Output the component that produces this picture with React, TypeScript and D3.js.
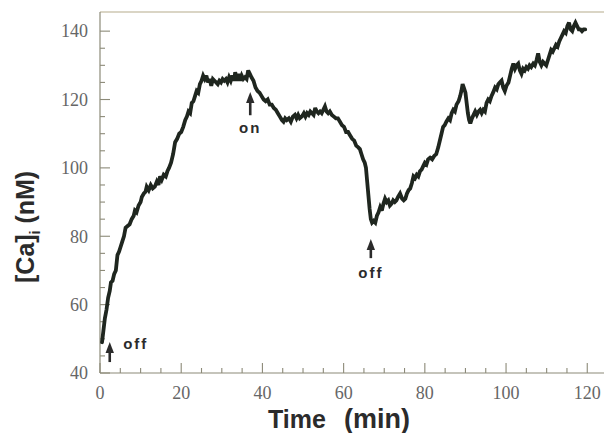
import React from "react";
import * as d3 from "d3";

const timeMin = [
  0.5, 0.8, 1.2, 1.6, 2.0, 2.4, 2.7, 3.1, 3.5, 3.9, 4.3, 4.7, 5.1, 5.5, 5.9, 6.3, 6.8, 7.3, 7.8, 8.3,
  8.6, 9.0, 9.5, 10.0, 10.3, 10.8, 11.2, 11.5, 12.0, 12.5, 13.0, 13.5, 14.0, 14.4, 14.8, 15.2, 15.7, 16.2, 16.6, 17.0,
  17.5, 18.0, 18.5, 19.0, 19.5, 20.0, 20.5, 21.0, 21.4, 21.8, 22.2, 22.6, 23.0, 23.4, 23.8, 24.2, 24.6, 25.0, 25.4, 25.8,
  26.2, 26.6, 27.0, 27.4, 27.8, 28.2, 28.6, 29.0, 29.4, 29.8, 30.2, 30.6, 31.0, 31.4, 31.8, 32.2, 32.6, 33.0, 33.3, 33.7,
  34.1, 34.5, 34.9, 35.3, 35.7, 36.1, 36.5, 36.9, 37.3, 37.8, 38.3, 38.8, 39.3, 39.8, 40.3, 40.8, 41.3, 41.8, 42.3, 42.8,
  43.3, 43.8, 44.3, 44.8, 45.2, 45.6, 46.0, 46.5, 47.0, 47.5, 48.0, 48.4, 48.8, 49.2, 49.7, 50.2, 50.6, 51.0, 51.4, 51.8,
  52.2, 52.6, 53.0, 53.4, 53.8, 54.2, 54.6, 55.0, 55.4, 55.8, 56.2, 56.6, 57.1, 57.6, 58.1, 58.6, 59.1, 59.6, 60.1, 60.6,
  61.1, 61.6, 62.1, 62.6, 63.1, 63.6, 64.0, 64.4, 64.8, 65.2, 65.5, 65.8, 66.1, 66.4, 66.7, 67.0, 67.4, 67.8, 68.2, 68.6,
  69.0, 69.4, 69.8, 70.2, 70.6, 71.0, 71.4, 71.8, 72.2, 72.6, 73.0, 73.4, 73.9, 74.4, 74.8, 75.2, 75.6, 76.0, 76.4, 76.8,
  77.2, 77.6, 78.0, 78.4, 78.8, 79.2, 79.6, 80.0, 80.4, 80.8, 81.3, 81.8, 82.3, 82.8, 83.3, 83.7, 84.1, 84.5, 84.9, 85.3,
  85.8, 86.2, 86.6, 87.0, 87.4, 87.8, 88.3, 88.7, 89.0, 89.3, 89.6, 90.0, 90.3, 90.6, 90.9, 91.2, 91.6, 92.0, 92.4, 92.8,
  93.2, 93.6, 94.0, 94.4, 94.8, 95.2, 95.6, 96.0, 96.4, 96.8, 97.3, 97.7, 98.1, 98.5, 98.9, 99.3, 99.7, 100.1, 100.6, 101.0,
  101.4, 101.8, 102.2, 102.6, 103.0, 103.4, 103.8, 104.2, 104.6, 105.0, 105.4, 105.8, 106.2, 106.7, 107.1, 107.5, 107.9, 108.3, 108.7, 109.1,
  109.5, 109.9, 110.3, 110.7, 111.1, 111.5, 111.9, 112.3, 112.7, 113.1, 113.5, 113.9, 114.3, 114.7, 115.1, 115.5, 115.9, 116.3, 116.7, 117.1,
  117.5, 117.9, 118.3, 118.7, 119.1, 119.5,
];

const caNM = [
  49, 52, 56, 58.5, 62, 64, 66.5, 67, 69, 70, 74.5, 75.5, 77, 78.5, 80, 82.5, 83, 83.5, 85, 86,
  87.5, 87, 89, 90, 91.5, 92.5, 93, 94.5, 93.5, 95, 94, 94.5, 96, 95, 97.5, 96.5, 98, 97.5, 99, 100,
  101.5, 104, 107.5, 108.5, 110, 110.5, 112, 114, 115, 116.5, 116, 119, 119.5, 121, 122.5, 122, 124.5, 125.5, 127, 126,
  127, 125, 126, 124, 126, 125.5, 125, 124.5, 125.5, 125, 126, 125.5, 126, 125, 126.5, 125.5, 127, 125.5, 128, 125.5,
  127.5, 125.5, 127, 126, 126.5, 126, 128.5, 127.5, 126.5, 125.5, 123.5, 122.5, 122, 121, 120, 119.5, 120, 118.5, 118.5, 117.5,
  117, 116, 115, 114, 113.5, 114.5, 114, 114.5, 113.5, 115, 115.5, 114.5, 115.5, 114.5, 115, 116, 115, 116, 115.5, 116.5,
  116, 115.5, 117.5, 116.5, 116, 116.5, 116, 117, 118, 116.5, 116, 116.5, 115.5, 115, 114.5, 114.5, 113.5, 112.5, 112, 110.5,
  110.5, 109.5, 108.5, 108, 106.5, 106, 105.5, 104, 102.5, 101.5, 100, 96, 92, 88, 85, 84, 84.5, 84, 86, 87,
  88.5, 87.5, 89.5, 91, 90, 90.5, 89, 89.5, 90.5, 90, 90.5, 91.5, 92.5, 91, 90.5, 91, 92.5, 93.5, 94, 95.5,
  97.5, 97, 98, 97.5, 99, 99.5, 100.5, 101.5, 101, 102.5, 103, 102.5, 103.5, 104, 106, 108, 110, 112, 112.5, 113.5,
  114.5, 114, 116, 117, 116.5, 118.5, 119.5, 121, 122.5, 124.5, 123.5, 122, 119, 116, 114, 113, 114.5, 115.5, 116.5, 115.5,
  116.5, 117, 116, 117, 116.5, 119, 120, 119.5, 121, 122, 123.5, 123, 124.5, 125, 125.5, 123.5, 122.5, 124, 125, 127,
  129, 130.5, 129, 130, 130.5, 128.5, 127.5, 129, 128.5, 129.5, 129, 130, 129.5, 130.5, 130, 131.5, 133.5, 131, 130, 131,
  130.5, 130, 131.5, 133, 134.5, 134, 135, 136, 135.5, 137, 138, 139, 140, 139.5, 141.5, 142.5, 140.5, 140, 141.5, 142.5,
  141.5, 140.5, 140.5, 140, 140.5, 140.5,
];

const yTickLabels = [40, 60, 80, 100, 120, 140];
const xTickLabels = [0, 20, 40, 60, 80, 100, 120];

const markerTimes = [2.4, 37, 66.7];
const markerLabels = ["off", "on", "off"];
const markerTipCa = [49.1, 122.2, 79.2];
const markerTailCa = [43.2, 115.4, 73.6];
const markerTextCa = [47, 110.2, 67.8];
const markerTextDt = [3.3, 0, 0];
const markerAnchor = ["start", "middle", "middle"];

export default function App() {
  const W = 604;
  const H = 433;
  const x = d3.scaleLinear().domain([0, 124]).range([100, 603.5]);
  const y = d3.scaleLinear().domain([40, 145.6]).range([373, 12]);

  const data = timeMin.map((t, i) => [t, caNM[i]] as [number, number]);
  const line = d3
    .line<[number, number]>()
    .x((d) => x(d[0]))
    .y((d) => y(d[1]))
    .curve(d3.curveLinear);

  const xMinor = d3.range(0, 121, 5);
  const yMinor = d3.range(40, 141, 5);
  const axisColor = "#8c8a78";
  const labelColor = "#666";
  const serif = "Liberation Serif, DejaVu Serif, serif";
  const sans = "Liberation Sans, Arial, sans-serif";

  return (
    <svg
      width={W}
      height={H}
      style={{ position: "absolute", left: 0, top: 0, background: "#fff" }}
    >
      <line x1={x(0)} x2={W} y1={y(145.6)} y2={y(145.6)} stroke="#b5ab8c" strokeWidth={1.2} />
      <line x1={x(0)} x2={x(0)} y1={y(145.6)} y2={y(40)} stroke={axisColor} strokeWidth={1.2} />
      <line x1={x(0)} x2={W} y1={y(40)} y2={y(40)} stroke={axisColor} strokeWidth={1.2} />

      {xMinor.map((t) => (
        <line
          key={"xt" + t}
          x1={x(t)}
          x2={x(t)}
          y1={y(40)}
          y2={y(40) - (t % 20 === 0 ? 10 : 5)}
          stroke={axisColor}
          strokeWidth={1.1}
        />
      ))}
      {yMinor.map((v) => (
        <line
          key={"yt" + v}
          x1={x(0)}
          x2={x(0) + (v % 20 === 0 ? 10 : 5)}
          y1={y(v)}
          y2={y(v)}
          stroke={axisColor}
          strokeWidth={1.1}
        />
      ))}

      {yTickLabels.map((v) => (
        <text
          key={"yl" + v}
          x={x(0) - 12}
          y={y(v)}
          dy="0.35em"
          textAnchor="end"
          fontFamily={serif}
          fontSize={18}
          fill={labelColor}
        >
          {v}
        </text>
      ))}
      {xTickLabels.map((t) => (
        <text
          key={"xl" + t}
          x={x(t)}
          y={399}
          textAnchor="middle"
          fontFamily={serif}
          fontSize={18}
          fill={labelColor}
        >
          {t}
        </text>
      ))}

      <text x={268} y={428} fontFamily={sans} fontWeight="bold" fontSize={25} fill="#2b2b2b">
        Time
      </text>
      <text x={344} y={428} fontFamily={sans} fontWeight="bold" fontSize={27} fill="#2b2b2b">
        (min)
      </text>
      <text
        transform="translate(34,283) rotate(-90)"
        fontFamily={sans}
        fontWeight="bold"
        fontSize={25}
        fill="#2b2b2b"
      >
        <tspan>[Ca]</tspan>
        <tspan fontSize={14} dy={6}>i</tspan>
        <tspan dy={-6}>{" (nM)"}</tspan>
      </text>

      <path
        d={line(data) || ""}
        fill="none"
        stroke="#1f261f"
        strokeWidth={3.8}
        strokeLinejoin="miter"
        strokeMiterlimit={3}
        strokeLinecap="round"
      />

      {markerTimes.map((t, i) => {
        const xp = x(t);
        const tip = y(markerTipCa[i]);
        const tail = y(markerTailCa[i]);
        return (
          <g key={"m" + i}>
            <line x1={xp} x2={xp} y1={tail} y2={tip + 8} stroke="#2b2b2b" strokeWidth={2.6} />
            <path
              d={`M${xp},${tip} L${xp - 4.2},${tip + 11} L${xp + 4.2},${tip + 11} Z`}
              fill="#2b2b2b"
            />
            <text
              x={x(t + markerTextDt[i])}
              y={y(markerTextCa[i])}
              textAnchor={markerAnchor[i] as any}
              fontFamily={sans}
              fontWeight="bold"
              fontSize={15}
              letterSpacing={2}
              fill="#2b2b2b"
            >
              {markerLabels[i]}
            </text>
          </g>
        );
      })}
    </svg>
  );
}
